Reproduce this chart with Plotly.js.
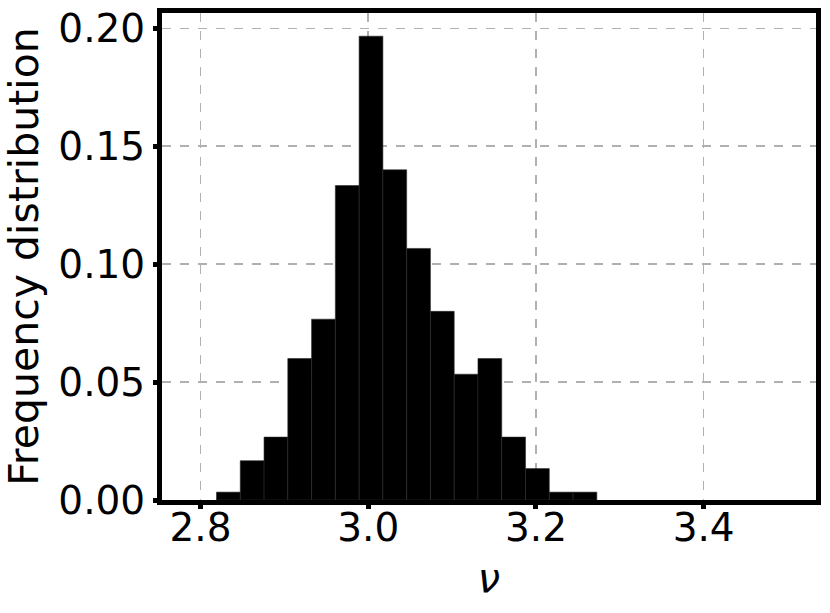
<!DOCTYPE html>
<html>
<head>
<meta charset="utf-8">
<script src="https://cdn.plot.ly/plotly-3.0.1.min.js"></script>
<style>
  html, body { margin: 0; padding: 0; background: #fff; }
  #plot { width: 830px; height: 613px; }
</style>
</head>
<body>
<div id="plot"></div>
<script>
// histogram of nu, 300 samples, relative frequency per bin
const binStart = 2.819;
const binWidth = 0.02835;
const counts = [1, 5, 8, 18, 23, 40, 59, 42, 32, 24, 16, 18, 8, 4, 1, 1];
const xTicks = [2.8, 3.0, 3.2, 3.4];
const yTicks = [0.00, 0.05, 0.10, 0.15, 0.20];

const total = counts.reduce((a, b) => a + b, 0);
let centers = [];
let freq = [];
counts.forEach((c, i) => {
    centers.push(binStart + (i + 0.5) * binWidth);
    freq.push(c / total);
});

const trace = {
    type: 'bar',
    x: centers,
    y: freq,
    width: binWidth,
    marker: { color: '#000000', line: { color: '#2a2a2a', width: 0.6 } },
    hoverinfo: 'skip'
};

const axisCommon = {
    showline: true,
    mirror: true,
    linecolor: '#000',
    linewidth: 5,
    ticks: 'outside',
    ticklen: 4,
    tickwidth: 5,
    tickcolor: '#000',
    showgrid: true,
    gridcolor: '#b0b0b0',
    gridwidth: 1.6,
    griddash: 'dash',
    zeroline: false,
    tickfont: { family: 'DejaVu Sans', size: 39, color: '#000' }
};

const layout = {
    width: 830,
    height: 613,
    margin: { l: 162, r: 14, t: 13, b: 113 },
    paper_bgcolor: '#fff',
    plot_bgcolor: '#fff',
    showlegend: false,
    bargap: 0,
    xaxis: Object.assign({}, axisCommon, {
        range: [2.754, 3.534],
        tickvals: xTicks,
        ticktext: xTicks.map(v => v.toFixed(1)),
        ticklabelstandoff: -15,
        title: { text: '<i>ν</i>', font: { family: 'DejaVu Sans', size: 40, color: '#000' }, standoff: 17 }
    }),
    yaxis: Object.assign({}, axisCommon, {
        range: [0, 0.2065],
        tickvals: yTicks,
        ticktext: yTicks.map(v => v.toFixed(2)),
        title: { text: 'Frequency distribution', font: { family: 'DejaVu Sans', size: 41, color: '#000' }, standoff: 10 }
    })
};

Plotly.newPlot('plot', [trace], layout, { displayModeBar: false, staticPlot: true });
</script>
</body>
</html>
